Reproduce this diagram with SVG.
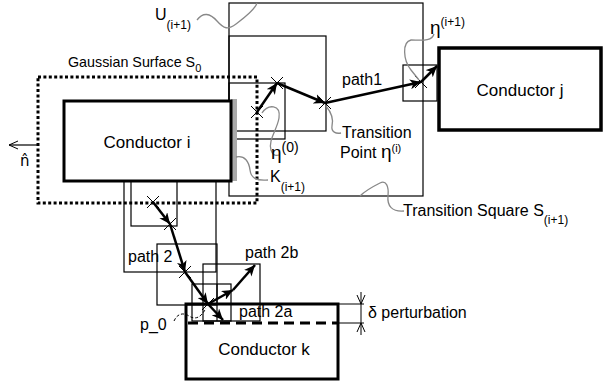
<svg xmlns="http://www.w3.org/2000/svg" width="604" height="386" viewBox="0 0 604 386">
<style>
.t{font-family:"Liberation Sans",Arial,sans-serif;font-size:16px;fill:#000}
.c{font-family:"Liberation Sans",Arial,sans-serif;font-size:17px;fill:#000}
.s{font-size:12px}
.e{font-size:19px}
.box{fill:none;stroke:#000;stroke-width:1.2}
.cond{fill:#fff;stroke:#000;stroke-width:3}
.sq{fill:none;stroke:#888;stroke-width:1.3}
.p{fill:none;stroke:#000;stroke-width:2.5;marker-end:url(#ah)}
.x{stroke:#000;stroke-width:1;fill:none}
</style>
<defs>
<marker id="ah" markerUnits="userSpaceOnUse" markerWidth="12" markerHeight="10" refX="11" refY="5" orient="auto">
<path d="M0,0 L11,5 L0,10 L3,5 z" fill="#000"/>
</marker>
<marker id="sa" markerUnits="userSpaceOnUse" markerWidth="10" markerHeight="10" refX="9" refY="5" orient="auto">
<path d="M0,1 L9,5 L0,9" fill="none" stroke="#000" stroke-width="1"/>
</marker>
<path id="cross" class="x" d="M-6,-6 L6,6 M-6,6 L6,-6"/>
</defs>
<rect width="604" height="386" fill="#fff"/>

<g id="squares">
<rect class="box" x="229" y="3" width="194" height="193"/>
<rect class="box" x="229" y="36" width="97" height="95"/>
<rect class="box" x="229" y="83" width="56" height="56"/>
<rect class="box" x="403" y="65" width="34" height="36"/>
<rect class="box" x="124" y="181" width="92" height="91"/>
<rect class="box" x="131" y="181" width="46" height="45"/>
<rect class="box" x="157" y="244" width="60" height="61"/>
<rect class="box" x="203" y="264" width="57" height="57"/>
<rect class="box" x="192" y="284" width="39" height="37"/>
<line class="box" x1="217" y1="284" x2="217" y2="321"/>
</g>

<g id="gaussian">
<rect x="38" y="77" width="219" height="126" fill="none" stroke="#000" stroke-width="3" stroke-dasharray="3 2.4"/>
<line x1="37" y1="145" x2="9" y2="145" stroke="#000" stroke-width="1.2" marker-end="url(#sa)"/>
<text x="20" y="166" style="font-family:'DejaVu Sans',sans-serif;font-size:15px">n̂</text>
<text class="t" x="68" y="67" style="font-size:14.3px">Gaussian Surface S<tspan dy="5" style="font-size:11px">0</tspan></text>
</g>

<g id="conductor-i">
<rect x="231" y="99" width="6" height="82" fill="#aaa"/>
<rect class="cond" x="64" y="101" width="167" height="80"/>
<text class="c" x="147" y="148" text-anchor="middle">Conductor i</text>
</g>

<g id="conductor-j">
<rect class="cond" x="439" y="48" width="162" height="82" style="stroke-width:3.5"/>
<text class="c" x="520" y="96" text-anchor="middle">Conductor j</text>
</g>

<g id="conductor-k">
<rect x="186" y="304" width="152" height="75" fill="none" stroke="#000" stroke-width="3"/>
<line x1="188" y1="323" x2="338" y2="323" stroke="#000" stroke-width="3" stroke-dasharray="10 6"/>
<text class="c" x="264" y="355" text-anchor="middle">Conductor k</text>
</g>

<g id="perturbation">
<line class="x" x1="338" y1="304" x2="364" y2="304"/>
<line class="x" x1="338" y1="323" x2="364" y2="323"/>
<line class="x" x1="361" y1="292" x2="361" y2="304" marker-end="url(#sa)"/>
<line class="x" x1="361" y1="335" x2="361" y2="323" marker-end="url(#sa)"/>
<line class="x" x1="361" y1="304" x2="361" y2="323"/>
<text class="t" x="368" y="318">δ perturbation</text>
</g>

<g id="connectors">
<line class="p" x1="257" y1="112" x2="277" y2="83"/>
<line class="p" x1="277" y1="83" x2="325" y2="103"/>
<line class="p" x1="325" y1="103" x2="421" y2="82"/>
<line class="p" x1="421" y1="82" x2="437" y2="66"/>
<line class="p" x1="153" y1="202" x2="170" y2="224"/>
<line class="p" x1="170" y1="224" x2="185" y2="272"/>
<line class="p" x1="185" y1="272" x2="208" y2="304"/>
<line class="p" x1="208" y1="304" x2="223" y2="320"/>
<line class="p" x1="208" y1="304" x2="233" y2="290"/>
<line class="p" x1="233" y1="290" x2="255" y2="265"/>
</g>

<g id="crosses">
<use href="#cross" x="257" y="112"/>
<use href="#cross" x="277" y="83"/>
<use href="#cross" x="325" y="103"/>
<use href="#cross" x="421" y="82"/>
<use href="#cross" x="153" y="202"/>
<use href="#cross" x="170" y="224"/>
<use href="#cross" x="185" y="272"/>
<use href="#cross" x="208" y="304"/>
</g>

<g id="labels">
<path class="sq" d="M197,20 C203,12 210,13 217,21 S228,30 236,24 S255,10 257,3"/>
<text class="t" x="155" y="20">U<tspan dy="9" class="s">(i+1)</tspan></text>

<path class="sq" d="M434,34 C432,42 420,40 411,40 C402,42 403,60 411,70 L419,80"/>
<text class="t" x="430" y="34"><tspan class="e">η</tspan><tspan dy="-8" class="s">(i+1)</tspan></text>

<text class="t" x="342" y="85">path1</text>

<path class="sq" d="M326,106 C331,112 334,118 332,126 C331,132 336,134 341,133"/>
<text class="t" x="342" y="138">Transition</text>
<text class="t" x="340" y="158">Point <tspan class="e">η</tspan><tspan dy="-6" style="font-size:11px">(i)</tspan></text>

<path class="sq" d="M262,113 C268,104 281,104 279,118 C277,130 268,140 271,150 C273,156 276,156 279,155"/>
<text class="t" x="271" y="159"><tspan class="e">η</tspan><tspan dy="-7" style="font-size:14px">(0)</tspan></text>

<path class="sq" d="M236,157 C245,155 249,162 250,170 C251,178 256,181 268,180"/>
<text class="t" x="270" y="182">K<tspan dy="9" class="s">(i+1)</tspan></text>

<path class="sq" d="M404,211 C392,212 387,206 388,196 C389,186 386,180 380,183 C372,187 365,191 360,196"/>
<text class="t" x="403" y="216">Transition Square S<tspan dy="8" class="s">(i+1)</tspan></text>

<text class="t" x="128" y="262">path 2</text>
<text class="t" x="245" y="258">path 2b</text>
<text class="t" x="239" y="317">path 2a</text>
<path d="M174,321 C177,314 183,312 189,316 C195,320 201,318 206,308" fill="none" stroke="#000" stroke-width="1" stroke-dasharray="3 2"/>
<text class="t" x="140" y="330">p_0</text>
</g>
</svg>
